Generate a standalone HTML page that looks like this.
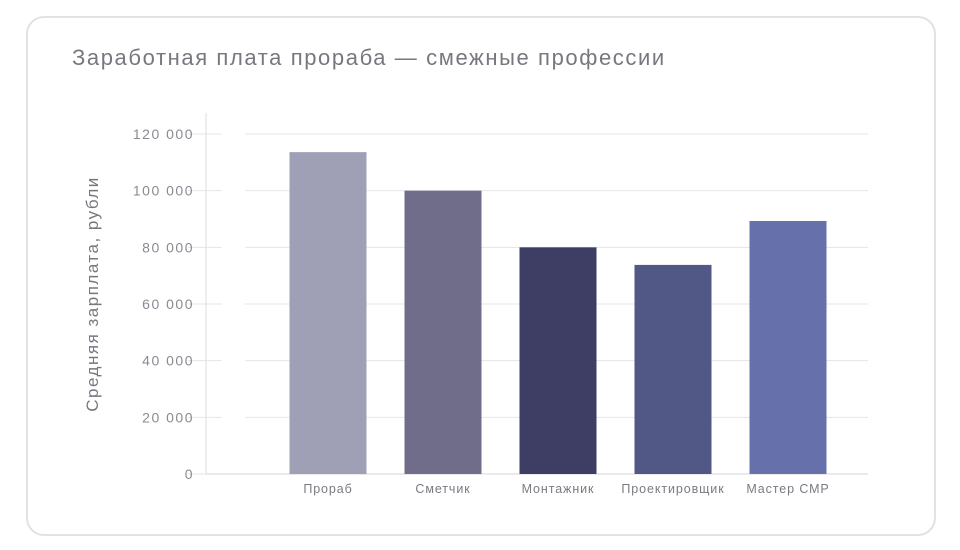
<!DOCTYPE html>
<html><head><meta charset="utf-8"><style>
body{margin:0;width:960px;height:550px;background:#fff;font-family:"Liberation Sans",sans-serif;}
#card{position:absolute;left:26px;top:16px;width:906px;height:516px;border:2px solid #e2e2e6;border-radius:18px;}
#title{position:absolute;left:72px;top:45px;font-size:22px;letter-spacing:1.6px;color:#77777f;white-space:nowrap;}
svg{position:absolute;left:0;top:0}
</style></head><body>
<div id="card"></div>
<div id="title">Заработная плата прораба — смежные профессии</div>
<svg id="chart" width="960" height="550"></svg>
<script>
const categories=["Прораб","Сметчик","Монтажник","Проектировщик","Мастер СМР"];
const values=[113600,100000,80000,73800,89300];
const colors=["#9fa0b5","#706d8a","#3e3e64","#525886","#6670aa"];
const ticks=[0,20000,40000,60000,80000,100000,120000];
const tickLabels=["0","20 000","40 000","60 000","80 000","100 000","120 000"];
const svg=document.getElementById('chart');const NS="http://www.w3.org/2000/svg";
const y=v=>474-v/120000*340;
const x=i=>328+i*115;
function mk(t,a,p){const e=document.createElementNS(NS,t);for(const k in a)e.setAttribute(k,a[k]);(p||svg).appendChild(e);return e;}
mk('line',{x1:206,y1:113,x2:206,y2:474,stroke:'#dcdce0'});
ticks.forEach((t,i)=>{
 const g=mk('g',{});
 
 
 mk('line',{x1:188,x2:222,y1:y(t),y2:y(t),stroke:'#e4e4e8'},g);
 if(t>0)mk('line',{x1:245,x2:868,y1:y(t),y2:y(t),stroke:'#e4e4e8'},g);
 const tx=mk('text',{x:194,y:y(t)+5,'text-anchor':'end','font-size':14,'letter-spacing':1.5,fill:'#8a8a92'},g);tx.textContent=tickLabels[i];
});
mk('line',{x1:206,x2:868,y1:474,y2:474,stroke:'#d4d4dc'});
values.forEach((v,i)=>{
 const r=mk('rect',{x:x(i)-38.5,y:y(v),width:77,height:474-y(v),fill:colors[i]});
 
 
 const t=mk('text',{x:x(i),y:493,'text-anchor':'middle','font-size':12.5,'letter-spacing':0.9,fill:'#7a7a82'});
 
 
 t.textContent=categories[i];
});
const yl=mk('text',{x:0,y:0,transform:'translate(98,294) rotate(-90)','text-anchor':'middle','font-size':17,'letter-spacing':1.5,fill:'#77777f'});


yl.textContent='Средняя зарплата, рубли';
</script>
</body></html>
